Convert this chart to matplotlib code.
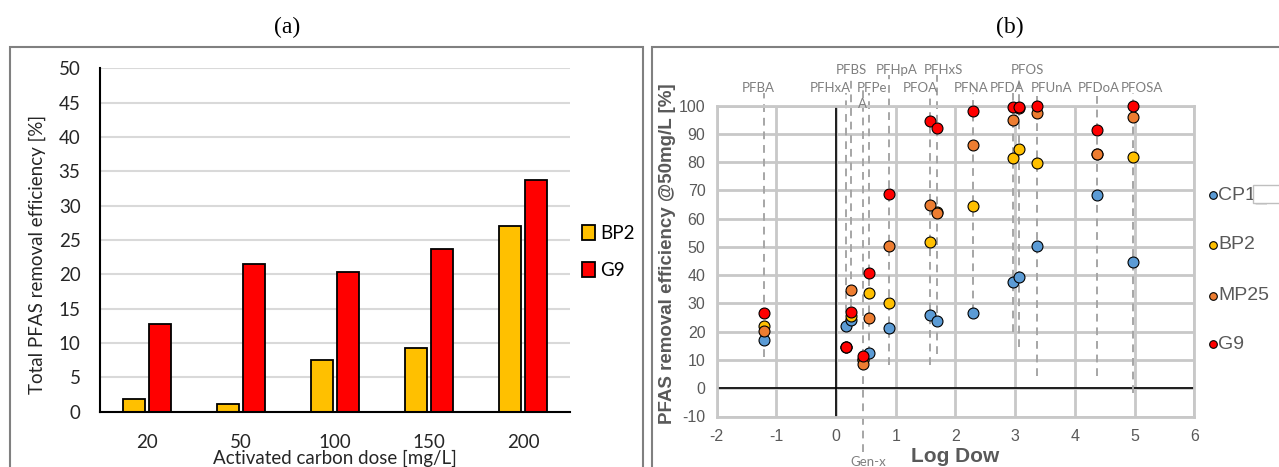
import matplotlib
matplotlib.use("Agg")
import matplotlib.pyplot as plt
from matplotlib.patches import Rectangle
import numpy as np

plt.rcParams["axes.unicode_minus"] = False

# ---- panel (a) data ----
doses = ["20", "50", "100", "150", "200"]
bp2_total = [1.8, 1.1, 7.6, 9.3, 27.1]
g9_total = [12.7, 21.5, 20.4, 23.7, 33.8]

# ---- panel (b) data ----
compounds = ["PFBA", "PFHxA", "PFBS", "Gen-x", "PFPeA", "PFHpA", "PFOA", "PFHxS",
             "PFNA", "PFDA", "PFOS", "PFUnA", "PFDoA", "PFOSA"]
logdow = [-1.21, 0.17, 0.25, 0.46, 0.56, 0.89, 1.58, 1.69,
          2.29, 2.97, 3.07, 3.37, 4.37, 4.98]
cp1 = [17.0, 22.2, 24.0, 10.5, 12.6, 21.2, 26.1, 23.8, 26.8, 37.7, 39.3, 50.2, 68.5, 44.7]
bp2 = [22.0, 14.6, 25.6, 10.0, 33.6, 30.1, 51.7, 62.5, 64.5, 81.6, 84.8, 79.8, 82.8, 82.0]
mp25 = [20.4, 14.6, 34.7, 8.5, 25.0, 50.5, 64.9, 61.9, 86.0, 94.8, 99.2, 97.3, 82.8, 96.0]
g9 = [26.8, 14.6, 27.1, 11.5, 40.9, 68.9, 94.7, 92.1, 98.3, 99.4, 99.4, 100.0, 91.4, 99.8]
# drop line extents
line_top = [104.4, 104.4, 110.8, 106.0, 104.4, 110.8, 104.4, 110.8,
            104.4, 104.4, 110.8, 104.4, 104.4, 104.4]
line_bottom = [11.0, 22.0, 24.0, -22.4, 12.0, 8.2, 8.2, 12.1,
               27.0, 20.0, 14.7, 4.3, 4.3, -1.8]
# label placement
label_text = ["PFBA", "PFHxA", "PFBS", "Gen-x", "PFPe\nA", "PFHpA", "PFOA", "PFHxS",
              "PFNA", "PFDA", "PFOS", "PFUnA", "PFDoA", "PFOSA"]
label_x = [-1.31, -0.10, 0.26, 0.54, 0.35, 1.02, 1.41, 1.80, 2.26, 2.86, 3.20, 3.61, 4.40, 5.13]
label_y = [106.3, 106.3, 112.7, -26.2, 106.3, 112.7, 106.3, 112.7, 106.3, 106.3, 112.7, 106.3, 106.3, 106.3]

W, H = 1279, 467
fig = plt.figure(figsize=(W / 100, H / 100), dpi=100)

def fx(px):
    return px / W

def fy(py):
    return 1 - py / H

# panel frames
fig.patches.append(Rectangle((fx(10), fy(480)), fx(633), fy(47) - fy(480), transform=fig.transFigure,
                             fill=False, edgecolor="#808080", lw=1.5))
fig.patches.append(Rectangle((fx(652), fy(480)), fx(700), fy(47) - fy(480), transform=fig.transFigure,
                             fill=False, edgecolor="#808080", lw=1.5))

fig.text(fx(287), fy(27), "(a)", family="Liberation Serif", fontsize=17, ha="center", va="center")
fig.text(fx(1010), fy(27), "(b)", family="Liberation Serif", fontsize=17, ha="center", va="center")

# ---------------- panel (a) ----------------
axa = fig.add_axes([fx(100), fy(411.7), fx(570) - fx(100), fy(68.3) - fy(411.7)])
x = np.arange(len(doses))
axa.bar(x - 0.14, bp2_total, 0.24, color="#FFC000", edgecolor="black", lw=1.3, label="BP2", zorder=3)
axa.bar(x + 0.14, g9_total, 0.24, color="#FF0000", edgecolor="black", lw=1.3, label="G9", zorder=3)
axa.set_xlim(-0.5, 4.5)
axa.set_ylim(0, 50)
axa.set_yticks(np.arange(0, 51, 5))
axa.set_xticks(x)
axa.set_xticklabels(doses)
axa.grid(axis="y", color="#d9d9d9", lw=1.5, zorder=0)
axa.set_axisbelow(True)
for s in ["top", "right"]:
    axa.spines[s].set_visible(False)
axa.spines["left"].set_linewidth(1.5)
axa.spines["bottom"].set_linewidth(1.5)
axa.spines["bottom"].set_zorder(4)
axa.tick_params(length=0, labelsize=13.5, colors="#262626")
axa.tick_params(axis="y", pad=14)
axa.tick_params(axis="x", pad=16)
for t in axa.get_xticklabels() + axa.get_yticklabels():
    t.set_family("Lato")
axa.legend(loc="center left", bbox_to_anchor=(0.99, 0.465), frameon=False, handlelength=0.7,
           handleheight=0.9, handletextpad=0.25, labelspacing=1.05,
           prop={"family": "Lato", "size": 13.5})
fig.text(fx(37), fy(254), "Total PFAS removal efficiency [%]", rotation=90, ha="center", va="center",
         family="Lato", fontsize=13.5, color="#262626")
fig.text(fx(335), fy(458), "Activated carbon dose [mg/L]", ha="center", va="center",
         family="Lato", fontsize=13.5, color="#262626")

# ---------------- panel (b) ----------------
axb = fig.add_axes([fx(716.6), fy(416.5), fx(1194.3) - fx(716.6), fy(105.7) - fy(416.5)])
axb.set_xlim(-2, 6)
axb.set_ylim(-10, 100)
axb.set_xticks(np.arange(-2, 7, 1))
axb.set_yticks(np.arange(-10, 101, 10))
axb.grid(color="#c8c8c8", lw=2, zorder=0)
axb.set_axisbelow(True)
for s in axb.spines.values():
    s.set_color("#c8c8c8")
    s.set_linewidth(2)
axb.axhline(0, color="black", lw=1.2, zorder=1)
axb.axvline(0, color="black", lw=1.2, zorder=1)
axb.tick_params(length=0, labelsize=11.5, colors="#595959")
axb.tick_params(axis="y", pad=8)
axb.tick_params(axis="x", pad=9)
for t in axb.get_xticklabels() + axb.get_yticklabels():
    t.set_family("Liberation Sans")

axb.vlines(logdow, line_bottom, line_top, colors="#a6a6a6", linestyles=(0, (4, 3)), lw=1.4,
           zorder=2, clip_on=False)
lab_font = ["Liberation Sans Narrow", "Lato"]
for xi, yi, txt in zip(label_x, label_y, label_text):
    if "\n" in txt:
        axb.text(xi, yi, "PFPe", ha="left", va="center", fontsize=9.5, color="#7f7f7f",
                 family=lab_font, clip_on=False)
        axb.text(xi + 0.02, yi - 5.8, "A", ha="left", va="center", fontsize=9.5, color="#7f7f7f",
                 family=lab_font, clip_on=False)
        continue
    axb.text(xi, yi, txt, ha="center", va="center", fontsize=9.5, color="#7f7f7f",
             family=lab_font, clip_on=False)

series = [("CP1", cp1, "#5B9BD5"), ("BP2", bp2, "#FFC000"), ("MP25", mp25, "#ED7D31"), ("G9", g9, "#FF0000")]
for name, vals, col in series:
    axb.scatter(logdow, vals, s=62, color=col, edgecolor="black", lw=0.8, zorder=5, clip_on=False)

# legend
leg_y = [195, 245, 296, 344.3]
leg_names = ["CP1_", "BP2", "MP25", "G9"]
for (name, vals, col), py, lab in zip(series, leg_y, leg_names):
    fig.lines.append(plt.Line2D([fx(1212.7)], [fy(py)], transform=fig.transFigure, marker="o",
                                markersize=5.5, color=col, markeredgecolor="black", mew=0.8, ls="none"))
    fig.text(fx(1218), fy(py), lab, ha="left", va="center", fontsize=14, color="#595959",
             family="Liberation Sans")
fig.patches.append(Rectangle((fx(1253), fy(203)), fx(40), fy(185) - fy(203), transform=fig.transFigure,
                             facecolor="white", edgecolor="#bfbfbf", lw=1, zorder=10))

fig.text(fx(667), fy(254), "PFAS removal efficiency @50mg/L [%]", rotation=90, ha="center", va="center",
         family="Liberation Sans", fontsize=13.5, fontweight="bold", color="#595959")
fig.text(fx(955), fy(456.7), "Log Dow", ha="center", va="center",
         family="Liberation Sans", fontsize=15, fontweight="bold", color="#595959")

fig.savefig("out.png", dpi=100)
